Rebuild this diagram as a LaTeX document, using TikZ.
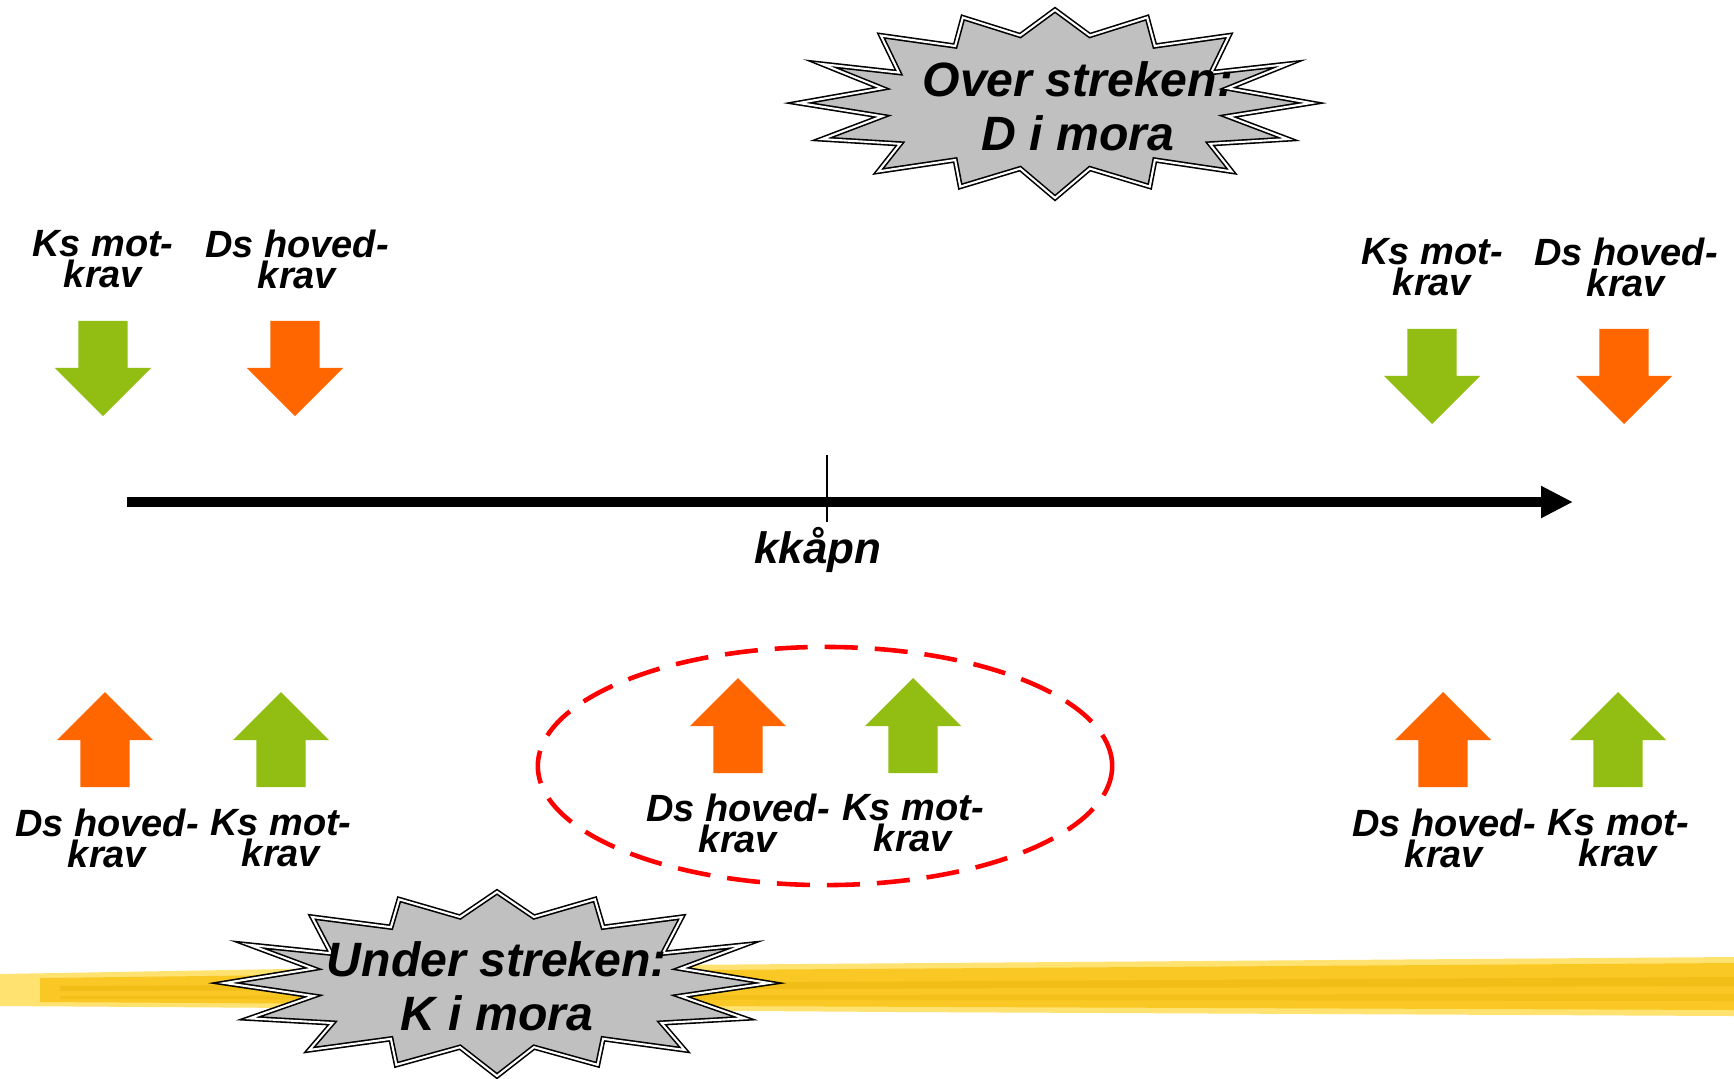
\documentclass[tikz,border=0pt]{standalone}
\usepackage{fontspec}
\setmainfont{Liberation Sans}
\usepackage{tikz}
\usetikzlibrary{arrows.meta,shapes.geometric,shapes.arrows}

\definecolor{kravgroenn}{RGB}{146,190,19}
\definecolor{kravoransje}{RGB}{255,102,0}
\definecolor{stjernegraa}{RGB}{192,192,192}
\definecolor{gullys}{RGB}{255,226,112}
\definecolor{gull}{RGB}{249,200,36}
\definecolor{gullmork}{RGB}{234,180,12}

\tikzset{
	etikett/.style={align=center, inner sep=0pt, font=\fontsize{10.8}{8.8}\selectfont\bfseries\itshape},
	stjernetekst/.style={align=center, inner sep=0pt, font=\fontsize{13.7}{15.4}\selectfont\bfseries\itshape},
	stjernekant/.style={fill=stjernegraa, draw=black, line width=0.45pt, double=white, double distance=0.6pt, line join=miter},
	blokkpil/.style={single arrow, draw=none, inner xsep=0pt, inner ysep=0.24cm, anchor=tip, minimum height=0.95cm, single arrow head extend=0.235cm, single arrow tip angle=90},
	pilned/.style={blokkpil, rotate=-90},
	pilopp/.style={blokkpil, rotate=90},
	pics/stjerne/.style={code={
		\draw[stjernekant] (0,-0.98) -- (0.136,-0.71) -- (0.36,-0.9) -- (0.39,-0.6) -- (0.68,-0.71) -- (0.61,-0.32) -- (0.91,-0.41) -- (0.675,-0.155) -- (1,0) -- (0.675,0.14) -- (0.91,0.38) -- (0.605,0.43) -- (0.69,0.72) -- (0.39,0.6) -- (0.37,0.88) -- (0.136,0.69) -- (0,1) -- (-0.136,0.69) -- (-0.37,0.88) -- (-0.39,0.6) -- (-0.69,0.72) -- (-0.605,0.43) -- (-0.91,0.38) -- (-0.675,0.14) -- (-1,0) -- (-0.675,-0.155) -- (-0.91,-0.41) -- (-0.61,-0.32) -- (-0.68,-0.71) -- (-0.39,-0.6) -- (-0.36,-0.9) -- (-0.136,-0.71) -- cycle;
	}}
}

\begin{document}
\begin{tikzpicture}[x=0.01cm, y=-0.01cm]
			\fill[white] (0,0) rectangle (1734,1078);
			\useasboundingbox (0,0) rectangle (1734,1078);

			\fill[gullys] (0,974) -- (400,967) -- (1734,957) -- (1734,1016) -- (900,1012) -- (0,1006) -- cycle;
			\fill[gull] (40,978) -- (700,970) -- (1734,963) -- (1734,1010) -- (700,1006) -- (40,1002) -- cycle;
			\fill[gullmork, opacity=0.5] (60,986) -- (1734,977) -- (1734,986) -- (60,991) -- cycle;
			\fill[gullmork, opacity=0.4] (60,996) -- (1734,994) -- (1734,1001) -- (60,999) -- cycle;

			\pic[xscale=256, yscale=95] at (1055,103) {stjerne};
			\pic[xscale=272, yscale=93] at (497,983) {stjerne};

			\node[stjernetekst] (over) at (1078,106) {Over streken:\\D i mora};
			\node[stjernetekst] (under) at (497,986) {Under streken:\\K i mora};

			\coordinate (start) at (127,502);
			\coordinate (slutt) at (1573,502);
			\coordinate (merke) at (827,455);
			\coordinate (merkebunn) at (827,522);

			\draw[line width=0.1cm, -{Triangle[length=0.32cm, width=0.3cm]}] (start) -- (slutt);
			\draw[line width=0.5pt] (merke) -- (merkebunn);
			\node[anchor=base, inner sep=0pt, font=\fontsize{12.5}{14}\selectfont\bfseries\itshape] (kkapn) at (818,563) {kkåpn};

			\node[pilned, fill=kravgroenn] (motVO) at (103,417) {};
			\node[pilned, fill=kravoransje] (hovedVO) at (295,417) {};
			\node[pilned, fill=kravgroenn] (motHO) at (1432,425) {};
			\node[pilned, fill=kravoransje] (hovedHO) at (1624,425) {};

			\node[pilopp, fill=kravoransje] (hovedVN) at (105,691) {};
			\node[pilopp, fill=kravgroenn] (motVN) at (281,691) {};
			\node[pilopp, fill=kravoransje] (hovedM) at (738,677) {};
			\node[pilopp, fill=kravgroenn] (motM) at (913,677) {};
			\node[pilopp, fill=kravoransje] (hovedHN) at (1443,691) {};
			\node[pilopp, fill=kravgroenn] (motHN) at (1618,691) {};

			\node[etikett] (ksVO) at (103,259) {Ks mot-\\krav};
			\node[etikett] (dsVO) at (297,259) {Ds hoved-\\krav};
			\node[etikett] (ksHO) at (1432,267) {Ks mot-\\krav};
			\node[etikett] (dsHO) at (1626,267) {Ds hoved-\\krav};

			\node[etikett] (dsVN) at (107,838) {Ds hoved-\\krav};
			\node[etikett] (ksVN) at (281,838) {Ks mot-\\krav};
			\node[etikett] (dsM) at (738,823) {Ds hoved-\\krav};
			\node[etikett] (ksM) at (913,823) {Ks mot-\\krav};
			\node[etikett] (dsHN) at (1444,838) {Ds hoved-\\krav};
			\node[etikett] (ksHN) at (1618,838) {Ks mot-\\krav};

			\node[draw=red, ellipse, line width=1.3pt, dash pattern=on 0.33cm off 0.17cm, minimum width=5.74cm, minimum height=2.38cm] (ring) at (825,766) {};

		\end{tikzpicture}
\end{document}
